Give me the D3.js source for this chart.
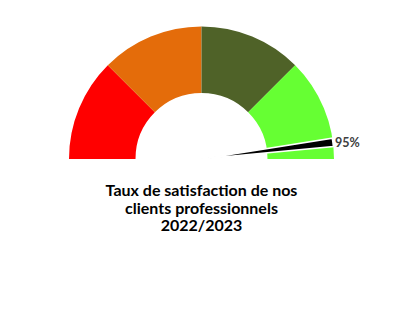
<!DOCTYPE html>
<html>
<head>
<meta charset="utf-8">
<script src="https://cdn.jsdelivr.net/npm/d3@7"></script>
<style>
	html, body { margin: 0; padding: 0; background: #fff; }
	svg { display: block; }
</style>
</head>
<body>
<svg id="chart"></svg>
<script>
// gauge bands (percent bounds)
var bands = [0, 25, 50, 75, 100];
var bandColors = ["#ff0000", "#e46c0a", "#4f6228", "#66ff33"];
// needle
var needleValue = 95;
var needleWidth = 2;
var valueLabel = "95%";
var titleLines = ["Taux de satisfaction de nos", "clients professionnels", "2022/2023"];

var width = 409, height = 321;
var cx = 201.5, cy = 159;
var outer = 132.5, inner = 66;

var svg = d3.select("#chart").attr("width", width).attr("height", height);
var g = svg.append("g").attr("transform", "translate(" + cx + "," + cy + ")");

// percent -> angle (d3 arc: 0 = up, clockwise)
var angle = d3.scaleLinear().domain([0, 100]).range([-Math.PI / 2, Math.PI / 2]);

var arc = d3.arc().innerRadius(inner).outerRadius(outer);

g.selectAll(".band")
	.data(bandColors)
	.enter().append("path")
	.attr("class", "band")
	.attr("fill", function(d) { return d; })
	.attr("d", function(d, i) {
		return arc({ startAngle: angle(bands[i]), endAngle: angle(bands[i + 1]) });
	});

// needle as a thin pie slice
var needleArc = d3.arc().innerRadius(0).outerRadius(outer);
g.append("path")
	.attr("fill", "#000")
	.attr("stroke", "#fff")
	.attr("stroke-width", 1.6)
	.attr("stroke-linejoin", "miter")
	.attr("d", needleArc({ startAngle: angle(needleValue), endAngle: angle(needleValue + needleWidth) }));

// value label next to the needle tip
var a = angle(needleValue + needleWidth / 2);
g.append("text")
	.attr("x", Math.sin(a) * outer + 2)
	.attr("y", -Math.cos(a) * outer)
	.attr("dy", "0.35em")
	.attr("font-family", "Lato, 'Liberation Sans', sans-serif")
	.attr("font-weight", "bold")
	.attr("font-size", 12.5)
	.attr("fill", "#404040")
	.text(valueLabel);

// title
svg.append("g").selectAll("text")
	.data(titleLines)
	.enter().append("text")
	.attr("x", cx)
	.attr("y", function(d, i) { return 196 + i * 17.5; })
	.attr("text-anchor", "middle")
	.attr("font-family", "Lato, 'Liberation Sans', sans-serif")
	.attr("font-weight", "bold")
	.attr("font-size", 16)
	.attr("fill", "#000")
	.text(function(d) { return d; });
</script>
</body>
</html>
